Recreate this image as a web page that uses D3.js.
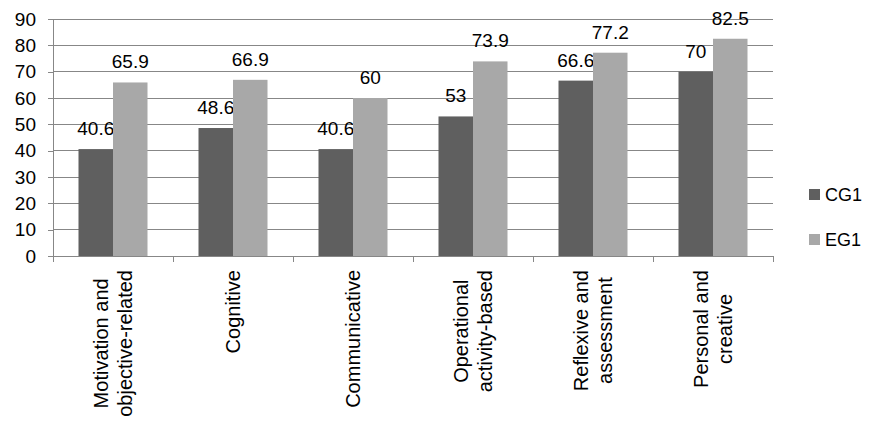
<!DOCTYPE html>
<html><head><meta charset="utf-8">
<script src="https://cdn.jsdelivr.net/npm/d3@7"></script>
<style>body{margin:0;background:#fff}svg{display:block}text{font-family:"Liberation Sans",Arial,sans-serif;fill:#000}</style>
</head><body>
<svg id="c" width="886" height="436"></svg>
<script>
const categories = [
  ["Motivation and","objective-related"],
  ["Cognitive"],
  ["Communicative"],
  ["Operational","activity-based"],
  ["Reflexive and","assessment"],
  ["Personal and","creative"]
];
const seriesNames = ["CG1","EG1"];
const cg1 = [40.6, 48.6, 40.6, 53, 66.6, 70];
const eg1 = [65.9, 66.9, 60, 73.9, 77.2, 82.5];
const yTicks = [0,10,20,30,40,50,60,70,80,90];
const colors = ["#5f5f5f","#a8a8a8"];

const svg = d3.select("#c");
const L = 53, R = 773, T = 19, B = 256;
const keys = categories.map((c,i)=>"c"+i);
const x = d3.scaleBand().domain(keys).range([L,R]).paddingInner(0.425).paddingOuter(0.2125);
const xs = d3.scaleBand().domain(seriesNames).range([0,x.bandwidth()]);
const y = d3.scaleLinear().domain([0,90]).range([B,T]);
const series = [cg1, eg1];

// gridlines
svg.append("g").selectAll("line").data(yTicks.filter(d=>d>0)).join("line")
  .attr("x1",L).attr("x2",R).attr("y1",d=>y(d)).attr("y2",d=>y(d))
  .attr("stroke","#878787").attr("stroke-width",1).attr("shape-rendering","crispEdges");

// y axis
const ya = svg.append("g").attr("transform",`translate(${L},0)`)
  .call(d3.axisLeft(y).tickValues(yTicks).tickSize(5).tickPadding(12));
ya.select(".domain").attr("stroke","#878787").attr("shape-rendering","crispEdges");
ya.selectAll(".tick line").attr("stroke","#878787").attr("shape-rendering","crispEdges");
ya.selectAll(".tick text").attr("font-size",19).attr("font-family","Liberation Sans, Arial, sans-serif").attr("fill","#000");

// bars
seriesNames.forEach((s,si)=>{
  svg.append("g").selectAll("rect").data(series[si]).join("rect")
    .attr("x",(d,i)=>x(keys[i])+xs(s)).attr("width",xs.bandwidth())
    .attr("y",d=>y(d)).attr("height",d=>y(0)-y(d)).attr("fill",colors[si]);
  svg.append("g").selectAll("text").data(series[si]).join("text")
    .attr("x",(d,i)=>x(keys[i])+xs(s)+xs.bandwidth()/2).attr("y",d=>y(d)-14)
    .attr("text-anchor","middle").attr("font-size",19).text(d=>d);
});

// x axis
svg.append("line").attr("x1",L).attr("x2",R).attr("y1",B).attr("y2",B)
  .attr("stroke","#878787").attr("shape-rendering","crispEdges");
const bounds = d3.range(keys.length+1).map(i=>L + i*x.step());
svg.append("g").selectAll("line").data(bounds).join("line")
  .attr("x1",d=>d).attr("x2",d=>d).attr("y1",B).attr("y2",B+6)
  .attr("stroke","#878787").attr("shape-rendering","crispEdges");

// category labels
categories.forEach((lines,i)=>{
  const cx = x(keys[i]) + x.bandwidth()/2;
  const g = svg.append("g");
  const ts = lines.map((ln,j)=>g.append("text").attr("font-size",20).attr("text-anchor","middle").text(ln));
  const maxW = d3.max(ts.map(t=>t.node().getComputedTextLength()));
  const cy = 270 + maxW/2;
  const n = lines.length;
  ts.forEach((t,j)=>{
    const bx = cx + 7 + (j-(n-1)/2)*24.5;
    t.attr("transform",`translate(${bx},${cy}) rotate(-90)`);
  });
});

// legend
seriesNames.forEach((s,i)=>{
  const ly = 194 + i*45;
  svg.append("rect").attr("x",809).attr("y",ly-5).attr("width",11).attr("height",11).attr("fill",colors[i]);
  svg.append("text").attr("x",825).attr("y",ly+7).attr("font-size",18).text(s);
});
</script>
</body></html>
